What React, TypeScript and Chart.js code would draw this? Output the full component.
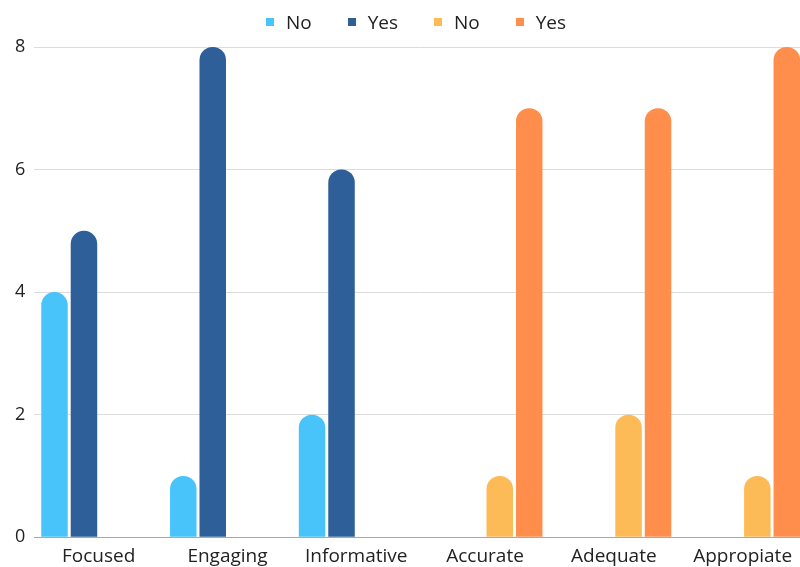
import React, { useEffect, useRef } from "react";
import { Chart, registerables } from "chart.js";

Chart.register(...registerables);

const categories = ["Focused", "Engaging", "Informative", "Accurate", "Adequate", "Appropiate"];
const seriesNames = ["No", "Yes", "No", "Yes"];
const blueNo = [4, 1, 2, null, null, null];
const blueYes = [5, 8, 6, null, null, null];
const orangeNo = [null, null, null, 1, 2, 1];
const orangeYes = [null, null, null, 7, 7, 8];
const seriesColors = ["#49C4FB", "#2E5F99", "#FDBB58", "#FF8E4D"];
const yTicks = [0, 2, 4, 6, 8];

const FONT = "'Open Sans', 'Noto Sans', sans-serif";

export default function App() {
  const canvasRef = useRef<HTMLCanvasElement | null>(null);

  useEffect(() => {
    const canvas = canvasRef.current;
    if (!canvas) return;
    const values = [blueNo, blueYes, orangeNo, orangeYes];
    const chart = new Chart(canvas, {
      type: "bar",
      data: {
        labels: categories,
        datasets: values.map((data, i) => ({
          label: seriesNames[i],
          data,
          backgroundColor: seriesColors[i],
          borderRadius: 13,
          borderSkipped: "bottom",
          categoryPercentage: 0.915,
          barPercentage: 0.9,
        })),
      },
      options: {
        animation: false,
        responsive: true,
        maintainAspectRatio: false,
        layout: { padding: { top: 47, left: 6, right: 1, bottom: 0 } },
        plugins: {
          legend: { display: false },
          tooltip: { enabled: false },
        },
        scales: {
          x: {
            grid: { display: false, drawTicks: false },
            border: { display: true, color: "#A8A8A8", width: 1 },
            ticks: {
              color: "#222",
              padding: 8,
              font: { family: FONT, size: 19 },
              maxRotation: 0,
              autoSkip: false,
            },
          },
          y: {
            min: yTicks[0],
            max: yTicks[yTicks.length - 1],
            afterBuildTicks: (scale: any) => {
              scale.ticks = yTicks.map((v) => ({ value: v }));
            },
            grid: { color: "#DCDCDC", lineWidth: 1, drawTicks: false },
            border: { display: false },
            ticks: {
              color: "#222",
              padding: 9,
              font: { family: FONT, size: 18 },
            },
          },
        },
      },
    });
    return () => chart.destroy();
  }, []);

  return (
    <div
      style={{
        position: "fixed",
        left: 0,
        top: 0,
        width: 800,
        height: 567,
        overflow: "hidden",
        background: "#fff",
      }}
    >
      <div style={{ position: "absolute", left: 0, top: 0, width: 808, height: 576 }}>
        <canvas ref={canvasRef} />
      </div>
      <div
        style={{
          position: "absolute",
          left: 0,
          top: 10,
          width: 832,
          display: "flex",
          justifyContent: "center",
          gap: 36,
          fontFamily: FONT,
          fontSize: 19,
          lineHeight: "24px",
          color: "#222",
        }}
      >
        {seriesNames.map((name, i) => (
          <div key={i} style={{ display: "flex", alignItems: "center" }}>
            <span
              style={{
                display: "inline-block",
                width: 8,
                height: 8,
                background: seriesColors[i],
                marginRight: 12,
              }}
            />
            <span>{name}</span>
          </div>
        ))}
      </div>
    </div>
  );
}
